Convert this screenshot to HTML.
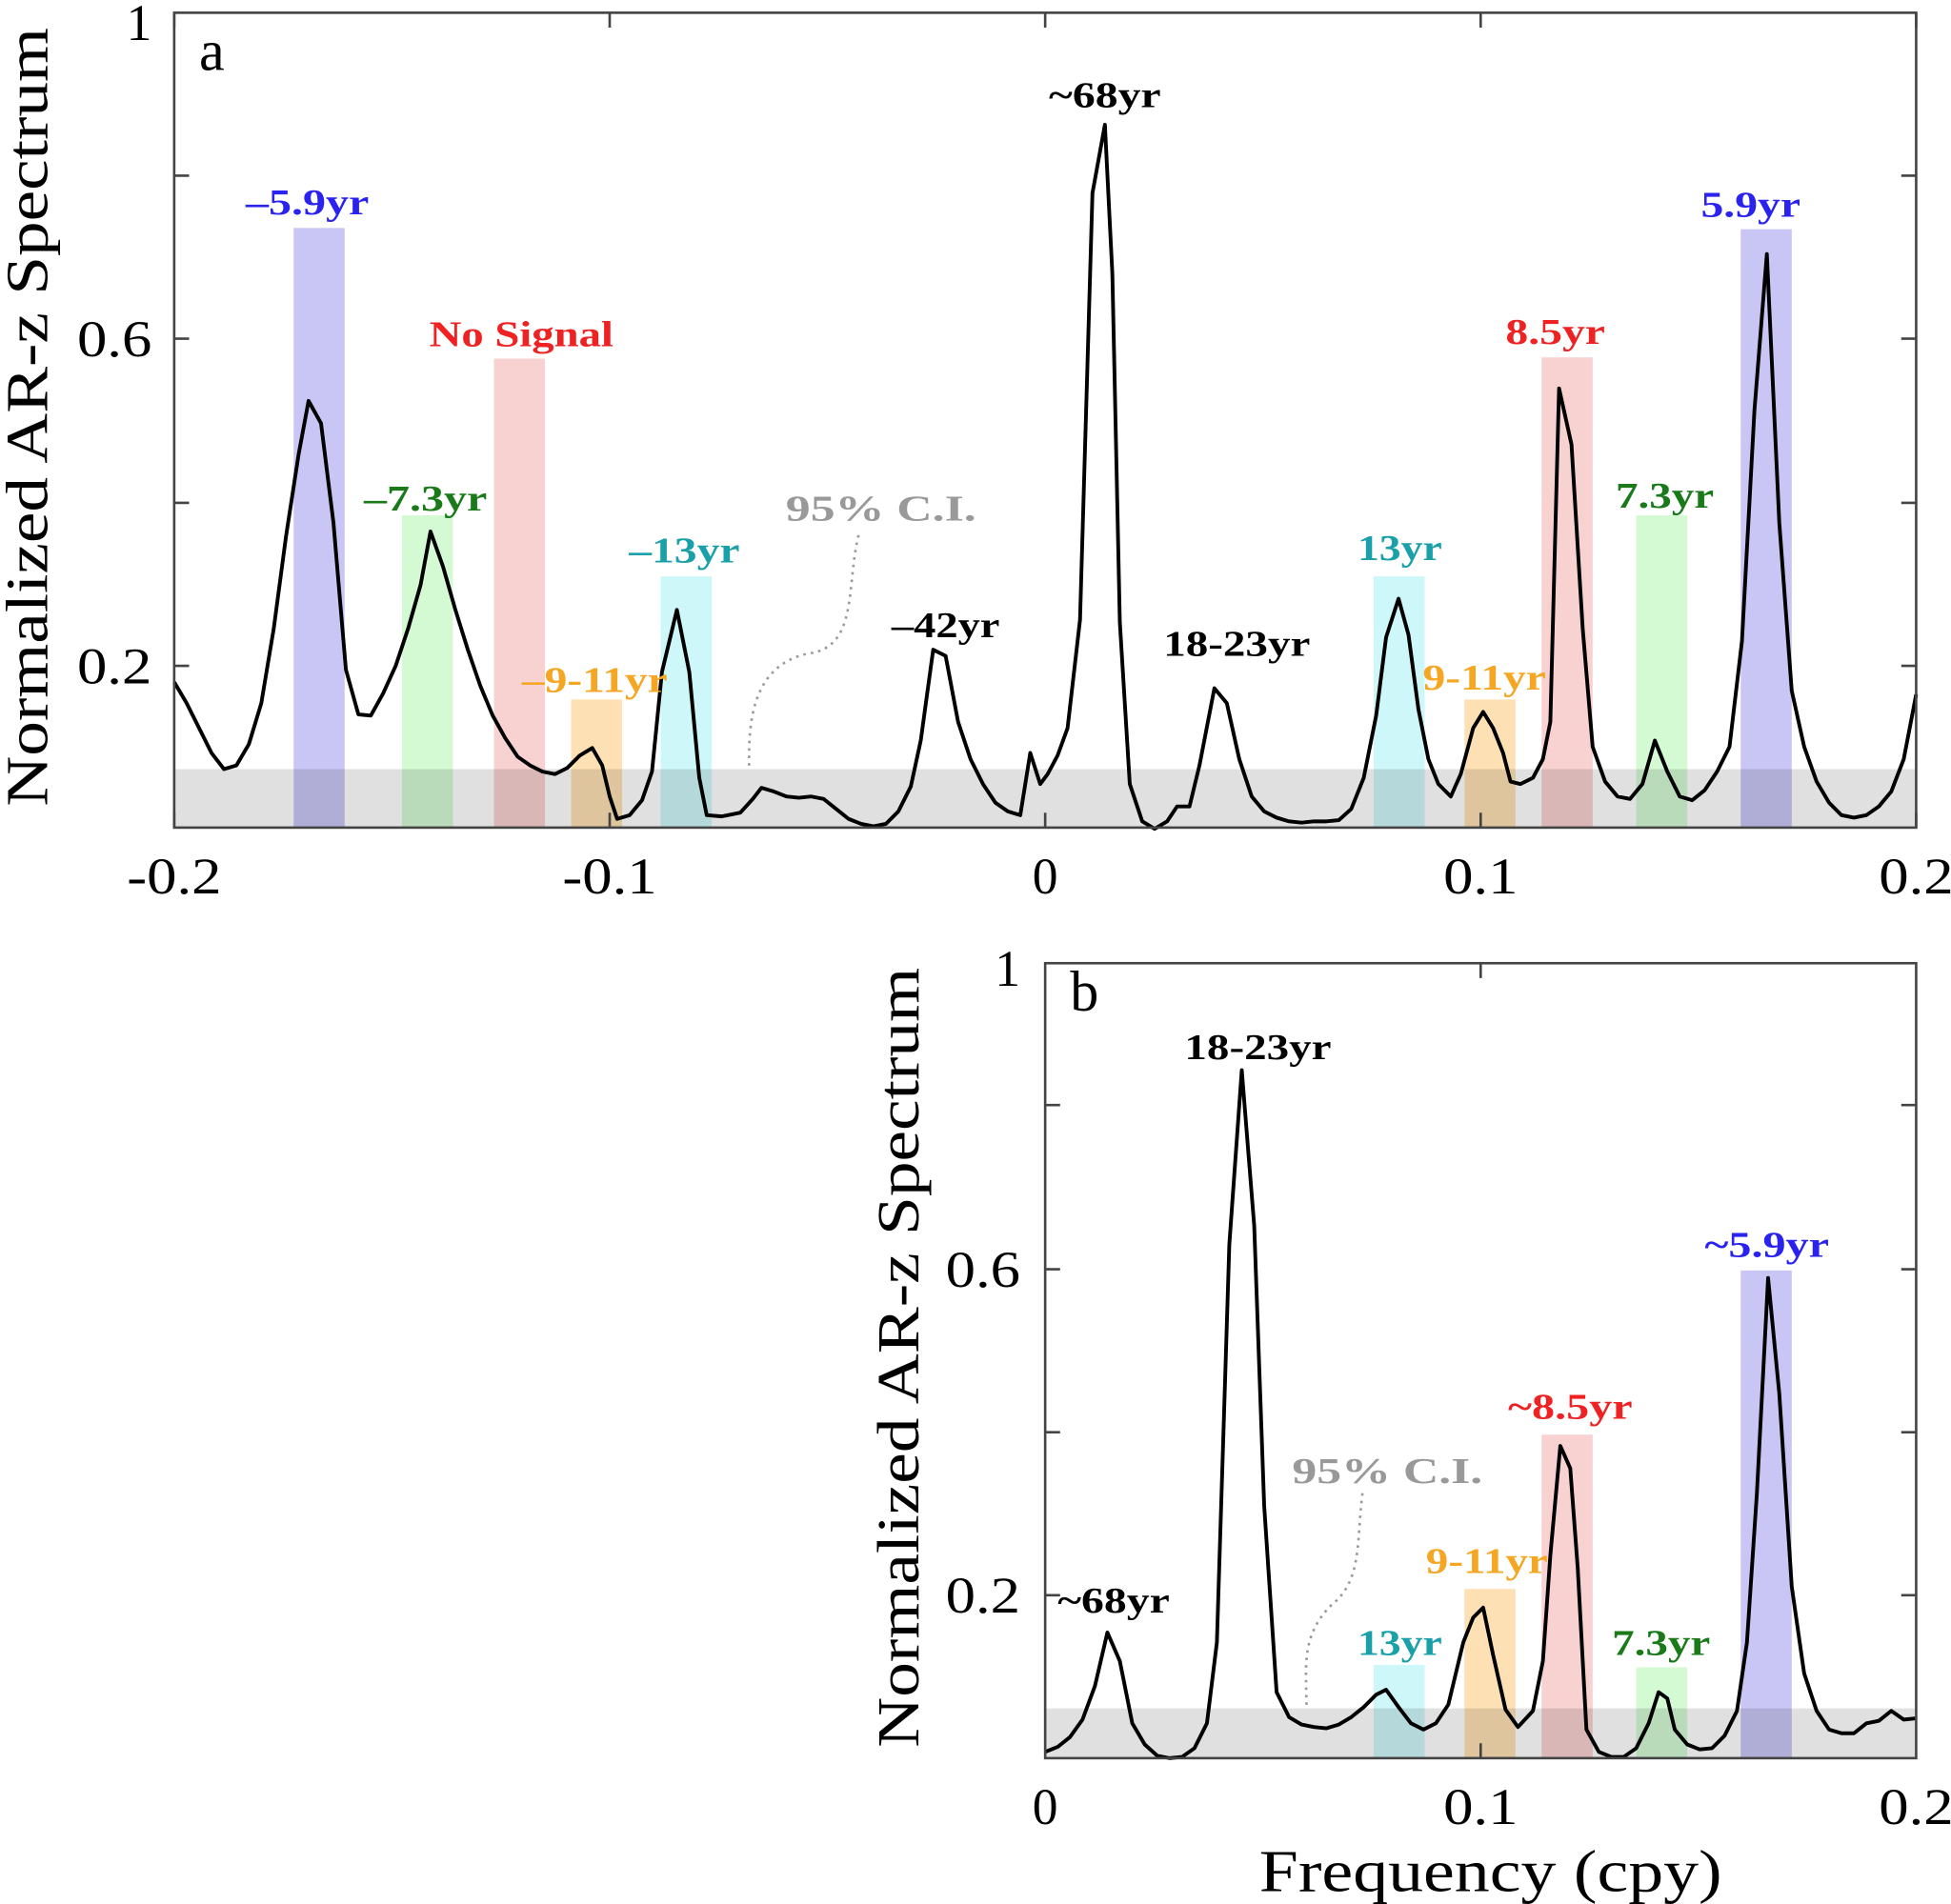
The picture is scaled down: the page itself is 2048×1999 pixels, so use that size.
<!DOCTYPE html>
<html><head><meta charset="utf-8"><style>
html,body{margin:0;padding:0;background:#fff;}
svg{display:block;}
.t{font-family:"Liberation Serif",serif;}
.lb{font-family:"Liberation Serif",serif;font-weight:bold;font-size:29px;text-anchor:middle;}
.tk{font-family:"Liberation Serif",serif;font-size:41px;}
</style></head><body>
<svg width="2048" height="1999" viewBox="0 0 1568 1530" xmlns="http://www.w3.org/2000/svg">
<!-- Panel a -->
<g>
<rect x="236" y="183" width="41" height="482" fill="rgba(60,50,220,0.28)"/>
<rect x="397" y="288" width="41" height="377" fill="rgba(230,90,90,0.28)"/>
<rect x="323" y="414" width="41" height="251" fill="rgba(60,230,60,0.22)"/>
<rect x="459" y="562" width="41" height="103" fill="rgba(250,170,40,0.35)"/>
<rect x="531" y="463" width="41" height="202" fill="rgba(60,225,235,0.25)"/>
<rect x="1104" y="463" width="41" height="202" fill="rgba(60,225,235,0.25)"/>
<rect x="1177" y="562" width="41" height="103" fill="rgba(250,170,40,0.35)"/>
<rect x="1239" y="287" width="41" height="378" fill="rgba(230,90,90,0.28)"/>
<rect x="1315" y="414" width="41" height="251" fill="rgba(60,230,60,0.22)"/>
<rect x="1399" y="184" width="41" height="481" fill="rgba(60,50,220,0.28)"/>
<rect x="140" y="618" width="1400" height="47" fill="rgba(0,0,0,0.12)"/>
<path d="M690,430 C680,470 690,520 650,525 C600,535 602,590 602,618" fill="none" stroke="#999" stroke-width="2" stroke-dasharray="2,4"/>
<polyline fill="none" stroke="#000" stroke-width="3" stroke-linejoin="round" points="140,548 150,565 160,585 170,605 180,618 190,615 200,598 210,565 220,505 230,430 240,365 248,322 258,340 268,420 278,538 288,574 298,575 308,557 318,535 328,505 338,470 346,427 356,455 366,490 376,522 386,551 396,575 406,593 416,608 426,615 436,620 446,622 456,617 466,607 476,601 484,615 490,640 496,658 506,655 516,643 524,620 532,540 544,490 554,540 562,625 568,655 580,656 595,653 605,642 612,633 622,636 632,640 642,641 652,640 662,642 672,650 682,658 692,662 702,664 712,662 722,652 732,632 740,595 750,522 760,527 770,580 780,610 790,630 800,645 810,652 820,655 828,605 836,630 842,622 850,607 858,585 868,498 878,155 888,100 894,220 900,500 908,630 918,660 928,666 938,660 946,648 956,648 964,615 976,553 986,565 996,610 1006,640 1016,652 1026,657 1036,660 1046,661 1056,660 1066,660 1076,659 1086,650 1096,625 1106,575 1114,512 1124,481 1132,510 1140,570 1148,610 1156,630 1166,640 1174,622 1184,585 1192,572 1200,585 1208,605 1214,628 1222,630 1232,625 1240,610 1246,580 1253,312 1263,357 1272,505 1280,600 1290,628 1300,640 1310,642 1320,630 1330,595 1340,620 1350,640 1360,643 1370,635 1380,620 1390,600 1400,515 1410,330 1420,204 1430,420 1440,555 1450,600 1460,628 1470,645 1480,655 1490,657 1500,655 1510,648 1520,636 1530,610 1540,558"/>
<rect x="140" y="10" width="1400" height="655" fill="none" stroke="#444" stroke-width="2"/>
<g stroke="#444" stroke-width="2">
<path d="M140,10v12M490,10v12M840,10v12M1190,10v12M1540,10v12M140,665v-12M490,665v-12M840,665v-12M1190,665v-12M1540,665v-12"/>
<path d="M140,141h12M140,272h12M140,404h12M140,535h12M1540,141h-12M1540,272h-12M1540,404h-12M1540,535h-12"/>
</g>
<g class="tk" text-anchor="middle">
<text x="140" y="718" textLength="76" lengthAdjust="spacingAndGlyphs">-0.2</text><text x="490" y="718" textLength="76" lengthAdjust="spacingAndGlyphs">-0.1</text><text x="840" y="718">0</text><text x="1190" y="718" textLength="60" lengthAdjust="spacingAndGlyphs">0.1</text><text x="1540" y="718" textLength="60" lengthAdjust="spacingAndGlyphs">0.2</text>
</g>
<g class="tk" text-anchor="end">
<text x="122" y="32">1</text><text x="122" y="286" textLength="60" lengthAdjust="spacingAndGlyphs">0.6</text><text x="122" y="549" textLength="60" lengthAdjust="spacingAndGlyphs">0.2</text>
</g>
<text class="t" font-size="46" x="160" y="56">a</text>
<text class="t" font-size="48" text-anchor="middle" textLength="626" lengthAdjust="spacingAndGlyphs" transform="translate(38,335) rotate(-90)">Normalized AR-z Spectrum</text>
<text class="lb" x="247" y="172" fill="#2a22ee" textLength="99" lengthAdjust="spacingAndGlyphs">–5.9yr</text>
<text class="lb" x="419" y="278" fill="#ee2222" textLength="148" lengthAdjust="spacingAndGlyphs">No Signal</text>
<text class="lb" x="342" y="410" fill="#1a7a1a" textLength="99" lengthAdjust="spacingAndGlyphs">–7.3yr</text>
<text class="lb" x="478" y="556" fill="#f5a623" textLength="117" lengthAdjust="spacingAndGlyphs">–9-11yr</text>
<text class="lb" x="550" y="452" fill="#1aa0a8" textLength="89" lengthAdjust="spacingAndGlyphs">–13yr</text>
<text class="lb" x="708" y="418" fill="#999" textLength="153" lengthAdjust="spacingAndGlyphs">95% C.I.</text>
<text class="lb" x="760" y="512" fill="#000" textLength="87" lengthAdjust="spacingAndGlyphs">–42yr</text>
<text class="lb" x="888" y="86" fill="#000" textLength="90" lengthAdjust="spacingAndGlyphs">~68yr</text>
<text class="lb" x="994" y="527" fill="#000" textLength="118" lengthAdjust="spacingAndGlyphs">18-23yr</text>
<text class="lb" x="1125" y="450" fill="#1aa0a8" textLength="68" lengthAdjust="spacingAndGlyphs">13yr</text>
<text class="lb" x="1193" y="554" fill="#f5a623" textLength="99" lengthAdjust="spacingAndGlyphs">9-11yr</text>
<text class="lb" x="1250" y="276" fill="#ee2222" textLength="80" lengthAdjust="spacingAndGlyphs">8.5yr</text>
<text class="lb" x="1338" y="408" fill="#1a7a1a" textLength="79" lengthAdjust="spacingAndGlyphs">7.3yr</text>
<text class="lb" x="1407" y="174" fill="#2a22ee" textLength="80" lengthAdjust="spacingAndGlyphs">5.9yr</text>
</g>
<!-- Panel b -->
<g>
<rect x="1104" y="1338" width="41" height="75" fill="rgba(60,225,235,0.25)"/>
<rect x="1177" y="1277" width="41" height="136" fill="rgba(250,170,40,0.35)"/>
<rect x="1239" y="1153" width="41" height="260" fill="rgba(230,90,90,0.28)"/>
<rect x="1315" y="1340" width="41" height="73" fill="rgba(60,230,60,0.22)"/>
<rect x="1399" y="1021" width="41" height="392" fill="rgba(60,50,220,0.28)"/>
<rect x="840" y="1373" width="700" height="40" fill="rgba(0,0,0,0.12)"/>
<path d="M1095,1200 C1090,1240 1095,1270 1070,1290 C1045,1315 1050,1340 1050,1372" fill="none" stroke="#999" stroke-width="2" stroke-dasharray="2,4"/>
<polyline fill="none" stroke="#000" stroke-width="3" stroke-linejoin="round" points="840,1408 850,1404 860,1396 870,1382 880,1355 890,1312 900,1335 910,1385 920,1402 930,1411 940,1413 950,1412 960,1405 970,1385 978,1320 988,1000 998,860 1008,985 1016,1210 1026,1360 1036,1380 1046,1386 1056,1388 1066,1389 1076,1386 1086,1380 1096,1372 1106,1362 1114,1358 1124,1372 1134,1385 1144,1390 1154,1385 1164,1370 1176,1320 1184,1300 1192,1292 1200,1330 1210,1374 1220,1388 1232,1375 1240,1335 1246,1250 1254,1162 1262,1180 1268,1260 1275,1390 1285,1408 1295,1412 1305,1412 1315,1405 1325,1385 1333,1360 1340,1365 1346,1390 1356,1402 1366,1406 1376,1405 1386,1395 1396,1375 1404,1320 1412,1200 1421,1027 1430,1120 1440,1275 1450,1345 1460,1375 1470,1390 1480,1393 1490,1393 1500,1385 1510,1383 1520,1375 1530,1382 1540,1381"/>
<rect x="840" y="774" width="700" height="639" fill="none" stroke="#444" stroke-width="2"/>
<g stroke="#444" stroke-width="2">
<path d="M1190,774v12M1190,1413v-12"/>
<path d="M840,888h12M840,1020h12M840,1151h12M840,1282h12M1540,888h-12M1540,1020h-12M1540,1151h-12M1540,1282h-12"/>
</g>
<g class="tk" text-anchor="middle">
<text x="840" y="1466">0</text><text x="1190" y="1466" textLength="60" lengthAdjust="spacingAndGlyphs">0.1</text><text x="1540" y="1466" textLength="60" lengthAdjust="spacingAndGlyphs">0.2</text>
</g>
<g class="tk" text-anchor="end">
<text x="820" y="792">1</text><text x="820" y="1034" textLength="60" lengthAdjust="spacingAndGlyphs">0.6</text><text x="820" y="1296" textLength="60" lengthAdjust="spacingAndGlyphs">0.2</text>
</g>
<text class="t" font-size="46" x="860" y="812">b</text>
<text class="t" font-size="48" text-anchor="middle" textLength="627" lengthAdjust="spacingAndGlyphs" transform="translate(738,1091) rotate(-90)">Normalized AR-z Spectrum</text>
<text class="t" font-size="48" text-anchor="middle" x="1198" y="1520" textLength="372" lengthAdjust="spacingAndGlyphs">Frequency (cpy)</text>
<text class="lb" x="1011" y="851" fill="#000" textLength="118" lengthAdjust="spacingAndGlyphs">18-23yr</text>
<text class="lb" x="895" y="1296" fill="#000" textLength="90" lengthAdjust="spacingAndGlyphs">~68yr</text>
<text class="lb" x="1115" y="1192" fill="#999" textLength="153" lengthAdjust="spacingAndGlyphs">95% C.I.</text>
<text class="lb" x="1125" y="1330" fill="#1aa0a8" textLength="68" lengthAdjust="spacingAndGlyphs">13yr</text>
<text class="lb" x="1195" y="1264" fill="#f5a623" textLength="98" lengthAdjust="spacingAndGlyphs">9-11yr</text>
<text class="lb" x="1262" y="1140" fill="#ee2222" textLength="100" lengthAdjust="spacingAndGlyphs">~8.5yr</text>
<text class="lb" x="1335" y="1330" fill="#1a7a1a" textLength="79" lengthAdjust="spacingAndGlyphs">7.3yr</text>
<text class="lb" x="1420" y="1010" fill="#2a22ee" textLength="100" lengthAdjust="spacingAndGlyphs">~5.9yr</text>
</g>
</svg>
</body></html>
